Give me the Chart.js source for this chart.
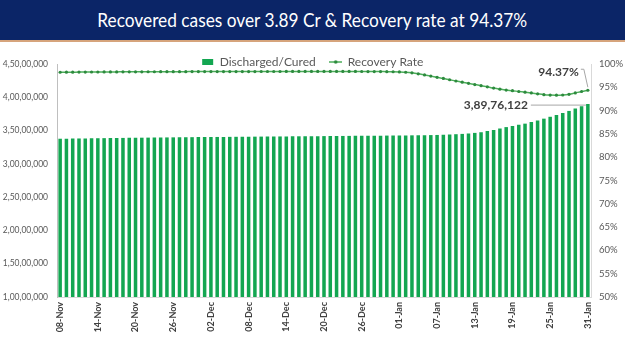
<!DOCTYPE html>
<html>
<head>
<meta charset="utf-8">
<script src="https://cdn.jsdelivr.net/npm/chart.js@4.4.0/dist/chart.umd.min.js"></script>
<style>
    html, body { margin: 0; padding: 0; background: #fff; }
    body { width: 625px; height: 351px; overflow: hidden; font-family: Lato, 'Open Sans', sans-serif; }
    .banner {
        height: 40px; background: #0b2567; border-bottom: 2px solid #d6a47c;
        color: #fff; font-size: 19px; line-height: 40px; text-align: center;
    }
    .banner span { display: inline-block; transform: scaleX(0.91); transform-origin: center; }
    .chart-box { position: relative; width: 625px; height: 309px; }
</style>
</head>
<body>
<div class="banner"><span>Recovered cases over 3.89 Cr &amp; Recovery rate at 94.37%</span></div>
<div class="chart-box"><canvas id="recoveryChart" width="625" height="309"></canvas></div>
<script>
// --- DATA ---
const dates = [
    '08-Nov','09-Nov','10-Nov','11-Nov','12-Nov','13-Nov','14-Nov','15-Nov','16-Nov','17-Nov','18-Nov','19-Nov',
    '20-Nov','21-Nov','22-Nov','23-Nov','24-Nov','25-Nov','26-Nov','27-Nov','28-Nov','29-Nov','30-Nov',
    '01-Dec','02-Dec','03-Dec','04-Dec','05-Dec','06-Dec','07-Dec','08-Dec','09-Dec','10-Dec','11-Dec','12-Dec',
    '13-Dec','14-Dec','15-Dec','16-Dec','17-Dec','18-Dec','19-Dec','20-Dec','21-Dec','22-Dec','23-Dec','24-Dec',
    '25-Dec','26-Dec','27-Dec','28-Dec','29-Dec','30-Dec','31-Dec',
    '01-Jan','02-Jan','03-Jan','04-Jan','05-Jan','06-Jan','07-Jan','08-Jan','09-Jan','10-Jan','11-Jan','12-Jan',
    '13-Jan','14-Jan','15-Jan','16-Jan','17-Jan','18-Jan','19-Jan','20-Jan','21-Jan','22-Jan','23-Jan','24-Jan',
    '25-Jan','26-Jan','27-Jan','28-Jan','29-Jan','30-Jan','31-Jan'
];

const shownTicks = ['08-Nov','14-Nov','20-Nov','26-Nov','02-Dec','08-Dec','14-Dec','20-Dec',
    '26-Dec','01-Jan','07-Jan','13-Jan','19-Jan','25-Jan','31-Jan'];

const discharged = [
    33775086, 33788000, 33800925, 33813000, 33825000, 33837859, 33849785, 33861756, 33873890, 33885132, 33896921, 33908722,
    33920000, 33930925, 33941671, 33952160, 33962000, 33971500, 33980957, 33990000, 33999000, 34008183, 34017000,
    34025000, 34033000, 34041000, 34049000, 34057000, 34065000, 34072500, 34080000, 34087500, 34095000, 34102500, 34110000,
    34117500, 34125000, 34132500, 34140000, 34147500, 34155000, 34162500, 34170000, 34177500, 34185000, 34192500, 34200000,
    34207500, 34215000, 34222500, 34230000, 34238000, 34247000, 34258778,
    34266363, 34273300, 34284561, 34295407, 34306414, 34321803, 34341009, 34371845, 34412740, 34453603, 34500172, 34570131,
    34651745, 34750000, 34920000, 35100000, 35310000, 35520000, 35700000, 35870000, 36040000, 36280000, 36530000, 36790000,
    37071898, 37330000, 37640000, 37950000, 38300000, 38650000, 38976122
];

const recoveryRate = [
    98.23, 98.24, 98.25, 98.26, 98.27, 98.28, 98.28, 98.29, 98.30, 98.31, 98.32, 98.32,
    98.33, 98.33, 98.34, 98.34, 98.35, 98.35, 98.36, 98.36, 98.36, 98.37, 98.37,
    98.37, 98.37, 98.38, 98.38, 98.38, 98.38, 98.38, 98.38, 98.38, 98.39, 98.39, 98.39,
    98.39, 98.40, 98.40, 98.40, 98.40, 98.40, 98.40, 98.40, 98.40, 98.40, 98.40, 98.40,
    98.40, 98.39, 98.38, 98.38, 98.37, 98.36, 98.34,
    98.30, 98.23, 98.10, 97.90, 97.65, 97.40, 97.15, 96.90, 96.62, 96.35, 96.10, 95.85,
    95.59, 95.35, 95.10, 94.83, 94.60, 94.40, 94.27, 94.10, 93.95, 93.80, 93.60, 93.42,
    93.33, 93.30, 93.35, 93.50, 93.80, 94.10, 94.37
];

// --- HELPERS ---
function fmtIndian(n) {
    const s = String(Math.round(n));
    const last3 = s.slice(-3);
    let rest = s.slice(0, -3);
    if (rest) rest = rest.replace(/\B(?=(\d{2})+(?!\d))/g, ',') + ',';
    return rest + last3;
}

function legendIcon(kind) {
    const c = document.createElement('canvas');
    c.width = 13; c.height = 8;
    const g = c.getContext('2d');
    if (kind === 'bar') {
        g.fillStyle = '#13a651';
        g.fillRect(1, 1, 11, 6);
    } else {
        g.strokeStyle = '#4cae5a'; g.lineWidth = 1.5;
        g.beginPath(); g.moveTo(0, 4); g.lineTo(13, 4); g.stroke();
        g.fillStyle = '#2d8a3e';
        g.beginPath(); g.arc(6.5, 4, 1.8, 0, Math.PI * 2); g.fill();
    }
    return c;
}

// legend text sits lower than its box; widen the clip so it is not cut
const legendRoom = {
    id: 'legendRoom',
    afterLayout(chart) {
        const lg = chart.legend;
        if (lg) { lg.bottom += 10; lg.height += 10; }
    }
};

const annotate = {
    id: 'annotate',
    afterDatasetsDraw(chart) {
        const ctx = chart.ctx;
        const last = discharged.length - 1;
        const bar = chart.getDatasetMeta(0).data[last];
        const pt = chart.getDatasetMeta(1).data[last];
        ctx.save();
        ctx.font = 'bold 12px Lato';
        ctx.fillStyle = '#404040';
        ctx.strokeStyle = '#a6a6a6';
        ctx.lineWidth = 1;
        ctx.textAlign = 'right';
        ctx.textBaseline = 'middle';

        // recovery rate label
        const rx = pt.x - 9, ry = pt.y - 18;
        ctx.fillText(recoveryRate[last].toFixed(2) + '%', rx, ry);
        ctx.beginPath();
        ctx.moveTo(rx + 2, ry - 3);
        ctx.lineTo(rx + 5, ry - 3);
        ctx.lineTo(pt.x, pt.y - 3);
        ctx.stroke();

        // discharged label
        const bx = bar.x - 60, by = bar.y + 1;
        ctx.fillText(fmtIndian(discharged[last]), bx, by);
        ctx.beginPath();
        ctx.moveTo(bx + 3, by);
        ctx.lineTo(bar.x - 2, by);
        ctx.stroke();
        ctx.restore();
    }
};

// --- CHART ---
const ctx = document.getElementById('recoveryChart').getContext('2d');
const myChart = new Chart(ctx, {
    type: 'bar',
    data: {
        labels: dates,
        datasets: [
            {
                type: 'bar',
                label: 'Discharged/Cured',
                data: discharged,
                yAxisID: 'y',
                backgroundColor: '#13a651',
                barPercentage: 0.56,
                categoryPercentage: 1,
                order: 2
            },
            {
                type: 'line',
                label: 'Recovery Rate',
                data: recoveryRate,
                yAxisID: 'y1',
                borderColor: '#4cae5a',
                borderWidth: 1.5,
                pointRadius: 1.6,
                pointBackgroundColor: '#2d8a3e',
                pointBorderWidth: 0,
                tension: 0.4,
                order: 1
            }
        ]
    },
    options: {
        responsive: false,
        animation: false,
        layout: { padding: 0 },
        plugins: {
            tooltip: { enabled: false },
            legend: {
                position: 'top',
                maxHeight: 22,
                labels: {
                    usePointStyle: true,
                    boxWidth: 13,
                    padding: 14,
                    color: '#595959',
                    font: { size: 12, family: 'Lato' },
                    generateLabels: () => [
                        { text: 'Discharged/Cured', pointStyle: legendIcon('bar'), fillStyle: '#13a651', strokeStyle: '#13a651', lineWidth: 0, hidden: false, datasetIndex: 0, fontColor: '#595959' },
                        { text: 'Recovery Rate', pointStyle: legendIcon('line'), fillStyle: '#4cae5a', strokeStyle: '#4cae5a', lineWidth: 0, hidden: false, datasetIndex: 1, fontColor: '#595959' }
                    ]
                }
            }
        },
        scales: {
            x: {
                grid: { display: false, drawTicks: false },
                border: { display: true, color: '#d9d9d9' },
                ticks: {
                    autoSkip: false,
                    minRotation: 90,
                    maxRotation: 90,
                    padding: 5,
                    color: '#404040',
                    font: { size: 9, weight: 'bold', family: 'Lato' },
                    callback: (v, i) => shownTicks.includes(dates[i]) ? dates[i] : null
                },
                afterFit: s => { s.height = 54; }
            },
            y: {
                position: 'left',
                min: 10000000,
                max: 45000000,
                grid: { display: false, drawTicks: false },
                border: { display: true, color: '#bfbfbf' },
                ticks: {
                    stepSize: 5000000,
                    padding: 9,
                    color: '#595959',
                    font: { size: 8.5, family: 'Lato' },
                    callback: v => fmtIndian(v)
                },
                afterFit: s => { s.width = 57; }
            },
            y1: {
                position: 'right',
                min: 50,
                max: 100,
                grid: { display: false, drawTicks: false },
                border: { display: true, color: '#d9d9d9' },
                ticks: {
                    stepSize: 5,
                    padding: 8,
                    color: '#595959',
                    font: { size: 9.5, family: 'Lato' },
                    callback: v => v + '%'
                },
                afterFit: s => { s.width = 34; }
            }
        }
    },
    plugins: [legendRoom, annotate]
});
</script>
</body>
</html>
